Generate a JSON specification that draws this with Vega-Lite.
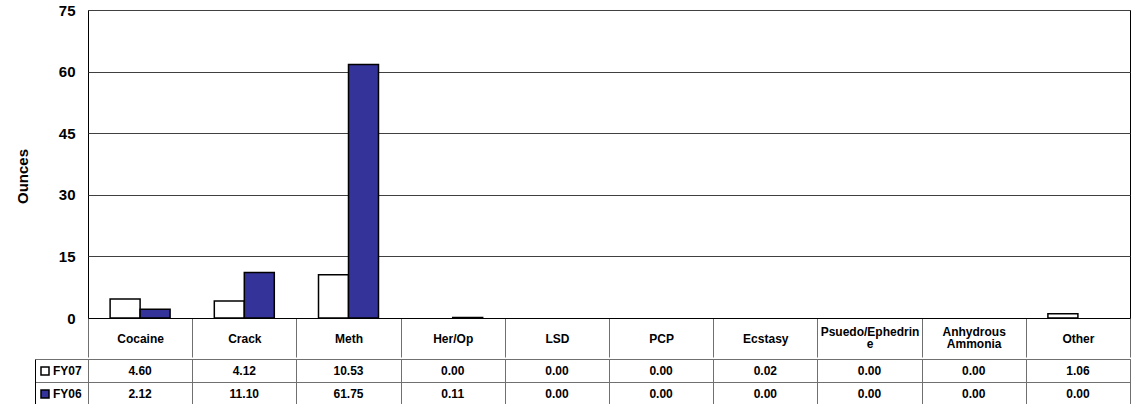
{
  "$schema": "https://vega.github.io/schema/vega-lite/v6.json",
  "padding": {"left": 14, "top": 2, "right": 0, "bottom": 0},
  "spacing": 0,
  "config": {
    "font": "Liberation Sans",
    "axis": {"labelFont": "Liberation Sans", "titleFont": "Liberation Sans", "labelColor": "black", "titleColor": "black"},
    "legend": {"labelFont": "Liberation Sans"}
  },
  "data": {
    "values": [
      {"drug": "Cocaine", "year": "FY07", "value": 4.60},
      {"drug": "Crack", "year": "FY07", "value": 4.12},
      {"drug": "Meth", "year": "FY07", "value": 10.53},
      {"drug": "Her/Op", "year": "FY07", "value": 0.00},
      {"drug": "LSD", "year": "FY07", "value": 0.00},
      {"drug": "PCP", "year": "FY07", "value": 0.00},
      {"drug": "Ecstasy", "year": "FY07", "value": 0.02},
      {"drug": "Psuedo/Ephedrine", "year": "FY07", "value": 0.00},
      {"drug": "Anhydrous Ammonia", "year": "FY07", "value": 0.00},
      {"drug": "Other", "year": "FY07", "value": 1.06},
      {"drug": "Cocaine", "year": "FY06", "value": 2.12},
      {"drug": "Crack", "year": "FY06", "value": 11.10},
      {"drug": "Meth", "year": "FY06", "value": 61.75},
      {"drug": "Her/Op", "year": "FY06", "value": 0.11},
      {"drug": "LSD", "year": "FY06", "value": 0.00},
      {"drug": "PCP", "year": "FY06", "value": 0.00},
      {"drug": "Ecstasy", "year": "FY06", "value": 0.00},
      {"drug": "Psuedo/Ephedrine", "year": "FY06", "value": 0.00},
      {"drug": "Anhydrous Ammonia", "year": "FY06", "value": 0.00},
      {"drug": "Other", "year": "FY06", "value": 0.00}
    ]
  },
  "vconcat": [
    {
      "width": 1042,
      "height": 308,
      "view": {"stroke": "black", "strokeWidth": 1},
      "transform": [{"filter": "datum.value >= 0.05"}],
      "mark": {"type": "bar", "stroke": "black", "strokeWidth": 1.5},
      "encoding": {
        "x": {
          "field": "drug", "type": "nominal",
          "sort": ["Cocaine", "Crack", "Meth", "Her/Op", "LSD", "PCP", "Ecstasy", "Psuedo/Ephedrine", "Anhydrous Ammonia", "Other"],
          "scale": {"domain": ["Cocaine", "Crack", "Meth", "Her/Op", "LSD", "PCP", "Ecstasy", "Psuedo/Ephedrine", "Anhydrous Ammonia", "Other"], "paddingInner": 0, "paddingOuter": 0},
          "axis": {
            "title": null, "orient": "bottom", "tickBand": "extent", "tickSize": 39, "tickColor": "#707070",
            "domainColor": "black", "domainWidth": 1, "labelPadding": -19,
            "labelBaseline": {"condition": {"test": "datum.value == 'Psuedo/Ephedrine' || datum.value == 'Anhydrous Ammonia'", "value": "bottom"}, "value": "middle"},
            "labelAngle": 0,
            "labelFontSize": 12, "labelFontWeight": "bold", "labelOverlap": false, "labelFlush": false, "labelLineHeight": 12.5,
            "labelExpr": "datum.value == 'Psuedo/Ephedrine' ? ['Psuedo/Ephedrin', 'e'] : datum.value == 'Anhydrous Ammonia' ? ['Anhydrous', 'Ammonia'] : datum.value",
            "minExtent": 39, "maxExtent": 39
          }
        },
        "xOffset": {"field": "year", "type": "nominal", "sort": ["FY07", "FY06"], "scale": {"domain": ["FY07", "FY06"], "paddingInner": 0, "paddingOuter": 0.737}},
        "y": {
          "field": "value", "type": "quantitative",
          "scale": {"domain": [0, 75], "nice": false},
          "axis": {
            "values": [0, 15, 30, 45, 60, 75], "title": "Ounces", "titleFontSize": 15, "titleFontWeight": "bold",
            "titleX": -61, "titleY": 166, "titleAngle": -90, "titleAlign": "center", "titleBaseline": "alphabetic",
            "labelFontSize": 15, "labelFontWeight": "bold", "labelPadding": 13, "ticks": false, "tickSize": 0, "domain": false,
            "grid": true, "gridColor": "#404040", "gridOpacity": 1, "gridWidth": 1
          }
        },
        "color": {
          "field": "year", "type": "nominal",
          "scale": {"domain": ["FY07", "FY06"], "range": ["#ffffff", "#333399"]},
          "legend": {
            "title": null, "orient": "none", "legendX": -49, "legendY": 355, "direction": "vertical",
            "symbolType": "square", "symbolSize": 64, "symbolStrokeColor": "black", "symbolStrokeWidth": 1.5,
            "labelFontSize": 12, "labelFontWeight": "bold", "labelOffset": 2, "rowPadding": 9, "padding": 0
          }
        }
      }
    },
    {
      "width": 1042,
      "height": 46,
      "view": {"stroke": "#707070", "strokeWidth": 1},
      "mark": {"type": "text", "fontSize": 12, "fontWeight": "bold", "font": "Liberation Sans", "color": "black"},
      "encoding": {
        "x": {
          "field": "drug", "type": "nominal",
          "sort": ["Cocaine", "Crack", "Meth", "Her/Op", "LSD", "PCP", "Ecstasy", "Psuedo/Ephedrine", "Anhydrous Ammonia", "Other"],
          "scale": {"paddingInner": 0, "paddingOuter": 0},
          "axis": {"title": null, "orient": "bottom", "labels": false, "ticks": false, "domain": false, "grid": true, "tickBand": "extent", "gridColor": "#707070", "gridOpacity": 1}
        },
        "y": {
          "field": "year", "type": "nominal", "sort": ["FY07", "FY06"],
          "scale": {"paddingInner": 0, "paddingOuter": 0},
          "axis": {"title": null, "labels": false, "offset": 53, "tickSize": -53, "tickBand": "extent", "tickColor": "#707070", "domainColor": "black", "grid": true, "gridColor": "#707070", "gridOpacity": 1}
        },
        "text": {"field": "value", "type": "quantitative", "format": ".2f"}
      }
    }
  ]
}
